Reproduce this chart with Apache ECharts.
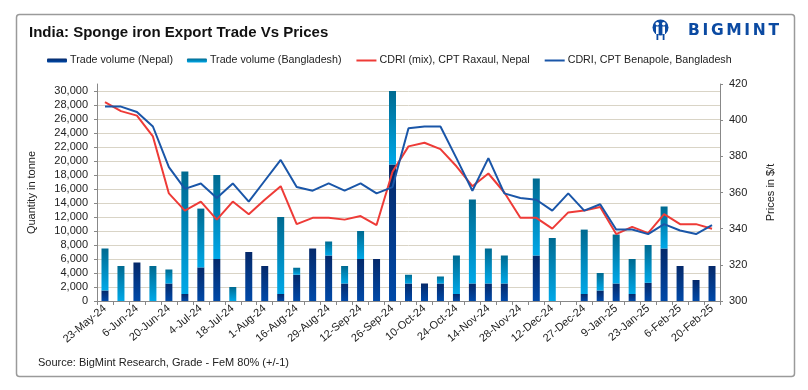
<!DOCTYPE html>
<html>
<head>
<meta charset="utf-8">
<script src="https://cdn.jsdelivr.net/npm/echarts@6/dist/echarts.min.js"></script>
<style>
html,body{margin:0;padding:0;background:#fff;}
#chart{width:808px;height:390px;}
</style>
</head>
<body>
<div id="chart"></div>
<script>
// ---- data ----
var categories = ['23-May-24','30-May-24','6-Jun-24','13-Jun-24','20-Jun-24','27-Jun-24','4-Jul-24','11-Jul-24','18-Jul-24','25-Jul-24',
  '1-Aug-24','8-Aug-24','16-Aug-24','22-Aug-24','29-Aug-24','5-Sep-24','12-Sep-24','19-Sep-24','26-Sep-24','3-Oct-24',
  '10-Oct-24','17-Oct-24','24-Oct-24','31-Oct-24','14-Nov-24','21-Nov-24','28-Nov-24','5-Dec-24','12-Dec-24','19-Dec-24',
  '27-Dec-24','2-Jan-25','9-Jan-25','16-Jan-25','23-Jan-25','30-Jan-25','6-Feb-25','13-Feb-25','20-Feb-25'];
var nepalVolume = [1500,0,5500,0,2500,1000,4800,6000,0,7000,
  5000,1000,3750,7500,6500,2500,6000,6000,19500,2500,
  2500,2500,1000,2500,2500,2500,0,6500,0,0,
  1000,1500,2500,1000,2600,7500,5000,3000,5000];
var bangladeshVolume = [6000,5000,0,5000,2000,17500,8400,12000,2000,0,
  0,11000,1000,0,2000,2500,4000,0,10500,1250,
  0,1000,5500,12000,5000,4000,0,11000,9000,0,
  9200,2500,7000,5000,5400,6000,0,0,0];
var raxaulPrice = [410,405,402.5,391,359.5,350,355,345,355,348,
  356,363.5,342.5,346,346,345,347,342,371.5,385.5,
  387.5,384,374.5,363.5,370.5,360,346,346,340,349,
  350,352,337,341,337.5,348,342.5,342.5,340];
var benapolePrice = [407.5,407.5,404.5,396.5,374,362,365,357,365,355,
  366.5,378,363,361,365,361,365,359.5,363,395.5,
  396.5,396.5,379,361,379,359.5,357,356,350,359.5,
  350,353.5,339.5,339.5,337,342.5,339,337,342];
var seriesNames = ['Trade volume (Nepal)','Trade volume (Bangladesh)','CDRI (mix), CPT Raxaul, Nepal','CDRI, CPT Benapole, Bangladesh'];

var FONT = '"Liberation Sans", Arial, sans-serif';
var chart = echarts.init(document.getElementById('chart'), null, {renderer:'canvas'});
function grad(top, bottom){
  return new echarts.graphic.LinearGradient(0,0,0,1,[{offset:0,color:top},{offset:1,color:bottom}]);
}
var logoColor = '#0b4aa2';
// logo word, spaced letters fitted into its box
var logoLetters = 'BIGMINT'.split('');
var logoFont = 'bold 15.5px "DejaVu Sans", ' + FONT;
var mctx = document.createElement('canvas').getContext('2d');
mctx.font = logoFont;
var lw = logoLetters.map(function(l){ return mctx.measureText(l).width; });
var lsum = lw.reduce(function(a,b){return a+b;},0);
var logoStart = 688, logoEnd = 779;
var gap = Math.max(1, (logoEnd - logoStart - lsum) / (logoLetters.length - 1));
var cx = logoStart;
var logoEls = logoLetters.map(function(l,i){
  var el = {type:'text', x: cx, y: 30.5, style:{text:l, fill:logoColor, font:logoFont, textAlign:'left', textVerticalAlign:'middle'}};
  cx += lw[i] + gap;
  return el;
});

var option = {
  backgroundColor:'#fff',
  animation:false,
  textStyle:{fontFamily:FONT},
  title:{text:'India: Sponge iron Export Trade Vs Prices', left:24, top:20,
    textStyle:{fontSize:15, fontWeight:'bold', color:'#111', fontFamily:FONT}},
  legend:{
    left:47, top:55, padding:0, itemWidth:20, itemHeight:4, itemGap:14,
    textStyle:{fontSize:10.7, color:'#222', fontFamily:FONT, padding:[0,0,0,-2]},
    data:[
      {name:seriesNames[0]},
      {name:seriesNames[1]},
      {name:seriesNames[2], itemStyle:{color:'rgba(0,0,0,0)', borderWidth:0}},
      {name:seriesNames[3], itemStyle:{color:'rgba(0,0,0,0)', borderWidth:0}}
    ]
  },
  grid:{left:97, right:88, top:84, bottom:89, containLabel:false},
  xAxis:{
    type:'category', data:categories,
    axisLine:{lineStyle:{color:'#888', width:1}},
    axisTick:{show:true, interval:0, length:4, lineStyle:{color:'#888'}},
    axisLabel:{interval:1, rotate:40, fontSize:11, color:'#222', margin:6, fontFamily:FONT},
    splitLine:{show:false}
  },
  yAxis:[
    {type:'value', min:0, max:31000, interval:2000, position:'left',
     name:'Quantity in tonne', nameLocation:'middle', nameGap:60, nameRotate:90,
     nameTextStyle:{fontSize:11, color:'#222', fontFamily:FONT},
     axisLine:{show:true, lineStyle:{color:'#888'}},
     axisTick:{show:true, length:3, lineStyle:{color:'#888'}},
     axisLabel:{fontSize:11, color:'#222', margin:9, showMaxLabel:false,
       formatter:function(v){ return v>30000 ? '' : v.toLocaleString('en-US'); }},
     splitLine:{show:true, showMaxLine:false, lineStyle:{color:'#d9d4c6', width:1}}
    },
    {type:'value', min:300, max:420, interval:20, position:'right',
     name:'Prices in $/t', nameLocation:'middle', nameGap:45, nameRotate:90,
     nameTextStyle:{fontSize:11, color:'#222', fontFamily:FONT},
     axisLine:{show:true, lineStyle:{color:'#888'}},
     axisTick:{show:true, length:3, lineStyle:{color:'#888'}},
     axisLabel:{fontSize:11, color:'#222', margin:9},
     splitLine:{show:false}
    }
  ],
  series:[
    {name:seriesNames[0], type:'bar', stack:'vol', data:nepalVolume, barWidth:7,
     itemStyle:{color:grad('#05296a','#0049a8')}},
    {name:seriesNames[1], type:'bar', stack:'vol', data:bangladeshVolume, barWidth:7,
     itemStyle:{color:grad('#006a90','#00a8e8')}},
    {name:seriesNames[2], type:'line', yAxisIndex:1, data:raxaulPrice, symbol:'none',
     lineStyle:{color:'#ee3b37', width:2}, itemStyle:{color:'#ee3b37'}},
    {name:seriesNames[3], type:'line', yAxisIndex:1, data:benapolePrice, symbol:'none',
     lineStyle:{color:'#1a56a8', width:2}, itemStyle:{color:'#1a56a8'}}
  ],
  graphic:[
    {type:'rect', left:14, top:12, shape:{width:778, height:362, r:3}, style:{fill:'none', stroke:'#9a9a9a', lineWidth:1.5}, silent:true},
    {type:'text', left:38, top:357, style:{text:'Source: BigMint Research, Grade - FeM 80% (+/-1)', fill:'#222', font:'11px '+FONT}},
    {type:'circle', shape:{cx:660.5, cy:27.5, r:8}, style:{fill:logoColor}},
    {type:'circle', shape:{cx:657.3, cy:23.8, r:1.8}, style:{fill:'#fff'}},
    {type:'circle', shape:{cx:663.7, cy:23.8, r:1.8}, style:{fill:'#fff'}},
    {type:'rect', shape:{x:656, y:26.5, width:2.6, height:8}, style:{fill:'#fff'}},
    {type:'rect', shape:{x:662.4, y:26.5, width:2.6, height:8}, style:{fill:'#fff'}},
    {type:'rect', shape:{x:656.5, y:34, width:1.8, height:6}, style:{fill:logoColor}},
    {type:'rect', shape:{x:662.7, y:34, width:1.8, height:6}, style:{fill:logoColor}}
  ].concat(logoEls)
};
chart.setOption(option);
</script>
</body>
</html>
